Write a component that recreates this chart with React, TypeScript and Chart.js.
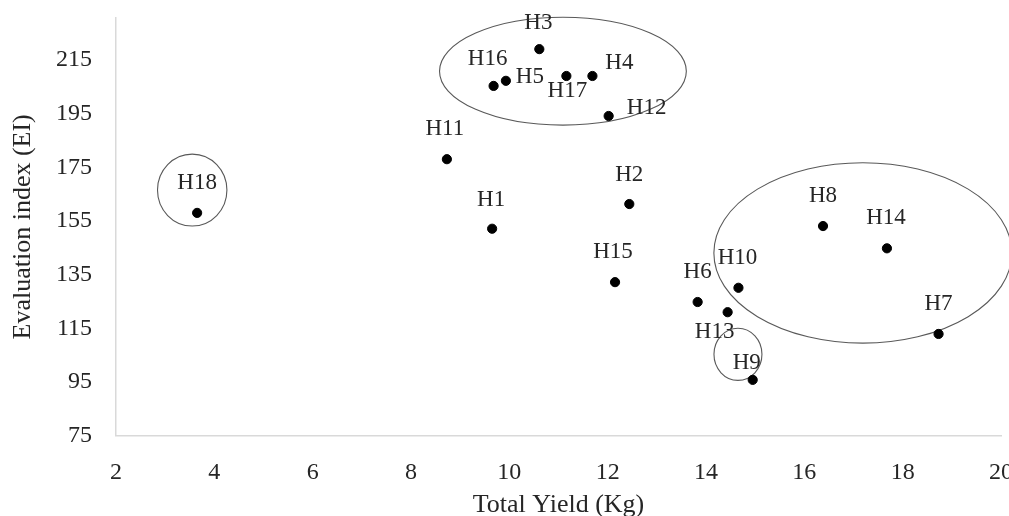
import React, { useEffect, useRef } from "react";
import { Chart, registerables } from "chart.js";

Chart.register(...registerables);

// ---- data ----
const hybrids = ["H1", "H2", "H3", "H4", "H5", "H6", "H7", "H8", "H9", "H10", "H11", "H12", "H13", "H14", "H15", "H16", "H17", "H18"];
const totalYield = [9.65, 12.44, 10.61, 11.69, 9.93, 13.83, 18.73, 16.38, 14.95, 14.66, 8.73, 12.02, 14.44, 17.68, 12.15, 9.68, 11.16, 3.65];
const evaluationIndex = [152.1, 161.3, 219.0, 209.0, 207.2, 124.8, 112.9, 153.1, 95.8, 130.1, 178.0, 194.1, 121.0, 144.8, 132.2, 205.3, 209.0, 158.0];
const xTicks = [2, 4, 6, 8, 10, 12, 14, 16, 18, 20];
const yTicks = [75, 95, 115, 135, 155, 175, 195, 215];

// grouping ellipses (data units)
const groupCenterX = [3.55, 11.09, 17.19, 14.65];
const groupCenterY = [166.5, 210.8, 143.1, 105.3];
const groupRadiusX = [0.706, 2.51, 3.03, 0.488];
const groupRadiusY = [13.4, 20.1, 33.6, 9.7];

// label offsets (pixels, style only)
const labelDx = [-1, 0, -1, 27, 24, 0, 0, 0, -6, -1, -2, 38, -13, -1, -2, -6, 1, 0];
const labelDy = [-29, -29, -26, -13, -4, -30, -30, -30, -17, -30, -30, -8, 20, -30, -30, -27, 15, -30];

const FONT = '"Liberation Serif", "DejaVu Serif", serif';
const TEXT = "#262626";

const annotationPlugin = {
  id: "groupsAndLabels",
  beforeDatasetsDraw(chart: any) {
    const { ctx, scales } = chart;
    const xs = scales.x;
    const ys = scales.y;
    ctx.save();
    ctx.strokeStyle = "#595959";
    ctx.lineWidth = 1.1;
    for (let i = 0; i < groupCenterX.length; i++) {
      const cx = xs.getPixelForValue(groupCenterX[i]);
      const cy = ys.getPixelForValue(groupCenterY[i]);
      const rx = Math.abs(xs.getPixelForValue(groupCenterX[i] + groupRadiusX[i]) - cx);
      const ry = Math.abs(ys.getPixelForValue(groupCenterY[i] + groupRadiusY[i]) - cy);
      ctx.beginPath();
      ctx.ellipse(cx, cy, rx, ry, 0, 0, Math.PI * 2);
      ctx.stroke();
    }
    ctx.restore();
  },
  afterDatasetsDraw(chart: any) {
    const { ctx } = chart;
    const meta = chart.getDatasetMeta(0);
    ctx.save();
    ctx.font = `23px ${FONT}`;
    ctx.fillStyle = TEXT;
    ctx.textAlign = "center";
    ctx.textBaseline = "middle";
    meta.data.forEach((pt: any, i: number) => {
      ctx.fillText(hybrids[i], pt.x + labelDx[i], pt.y + labelDy[i]);
    });
    ctx.restore();
  },
};

export default function App() {
  const canvasRef = useRef<HTMLCanvasElement | null>(null);

  useEffect(() => {
    if (!canvasRef.current) return;
    const chart = new Chart(canvasRef.current, {
      type: "scatter",
      data: {
        datasets: [
          {
            label: "Hybrids",
            data: totalYield.map((v, i) => ({ x: v, y: evaluationIndex[i] })),
            backgroundColor: "#000000",
            borderColor: "#000000",
            pointRadius: 4.6,
            pointHoverRadius: 4.6,
          },
        ],
      },
      options: {
        animation: false,
        responsive: false,
        maintainAspectRatio: false,
        layout: { padding: { left: 0, right: 39, top: 18, bottom: 0 } },
        plugins: { legend: { display: false }, tooltip: { enabled: false } },
        scales: {
          x: {
            type: "linear",
            min: 2,
            max: 20,
            afterBuildTicks: (s: any) => {
              s.ticks = xTicks.map((v) => ({ value: v }));
            },
            afterFit: (s: any) => {
              s.height = 540 - 435.7;
            },
            grid: { display: false, drawTicks: false },
            border: { display: true, color: "#d9d9d9", width: 1.5 },
            ticks: { color: TEXT, font: { family: FONT, size: 24 }, padding: 23 },
            title: {
              display: true,
              text: "Total Yield (Kg)",
              color: TEXT,
              font: { family: FONT, size: 26 },
              padding: { top: 0, bottom: 19 },
            },
          },
          y: {
            type: "linear",
            min: 75,
            max: 230.6,
            afterBuildTicks: (s: any) => {
              s.ticks = yTicks.map((v) => ({ value: v }));
            },
            afterFit: (s: any) => {
              s.width = 116;
              s.paddingTop = 0;
              s.paddingBottom = 0;
            },
            grid: { display: false, drawTicks: false },
            border: { display: true, color: "#d9d9d9", width: 1.5 },
            ticks: { color: TEXT, font: { family: FONT, size: 24 }, padding: 24 },
            title: {
              display: true,
              text: "Evaluation index (EI)",
              color: TEXT,
              font: { family: FONT, size: 26 },
              padding: { top: 8, bottom: 0 },
            },
          },
        },
      },
      plugins: [annotationPlugin],
    });
    return () => chart.destroy();
  }, []);

  return (
    <div style={{ position: "fixed", left: 0, top: 0, width: 1009, height: 516, overflow: "hidden", background: "#fff" }}>
      <canvas ref={canvasRef} width={1040} height={540} style={{ width: 1040, height: 540, display: "block" }} />
    </div>
  );
}
